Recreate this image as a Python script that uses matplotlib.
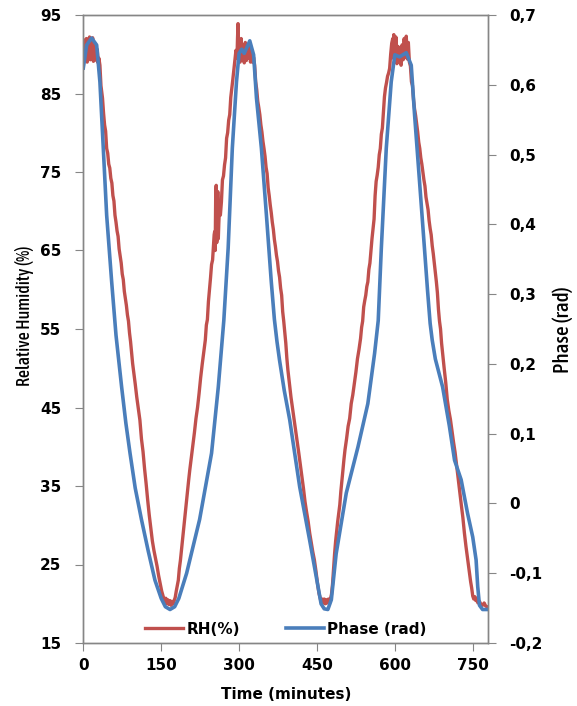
import matplotlib
matplotlib.use("Agg")
import matplotlib.pyplot as plt
from matplotlib.ticker import FuncFormatter
from matplotlib import font_manager as fm
from matplotlib.font_manager import FontProperties

# ---------------- data ----------------
rh_time = [0, 1.5, 3, 4.5, 6, 7.5, 9, 10.5, 12, 13.5, 15, 16.5, 18, 19.5, 21, 22.5, 24, 25.5, 27, 28.5, 30,
           32, 34, 36, 37, 39, 41, 43, 45, 47, 49, 51, 53, 55, 57, 59, 61, 63, 65, 67, 69, 71, 73, 75, 77, 79,
           81, 83, 85, 87, 89, 91, 93, 95, 97, 100, 103, 106, 109, 112, 115, 118, 121, 124, 127, 130, 133, 136,
           139, 142, 145, 148, 151, 154, 157, 159, 161, 163, 165, 167, 169, 171, 173, 175, 177,
           179, 181, 183, 185, 187, 189, 191, 193, 195, 197, 199, 201, 203, 205, 208, 211, 214, 217, 220, 223,
           226, 229, 232, 235, 237, 239, 241, 243, 245, 247, 249, 251, 252, 253, 254, 255, 256, 257, 258, 259,
           260, 261, 262, 264, 266, 268, 270, 272, 274, 276, 278, 280, 282, 284, 286, 288, 290, 292, 294, 296,
           297, 298, 299, 300, 302, 304, 306, 308, 310, 312, 314, 316, 318, 320, 322, 324, 326, 328, 330,
           332, 334, 336, 338, 340, 342, 344, 346, 348, 350, 352, 354, 356, 358, 360, 362, 364, 366, 368, 370,
           372, 374, 376, 378, 380, 382, 384, 386, 388, 390, 392, 394, 397, 400, 403, 406, 409, 412, 415, 418,
           421, 424, 427, 430, 433, 436, 439, 442, 445, 448, 451, 454, 456, 458, 460, 462, 464, 466, 468, 470,
           472, 474, 476, 478,
           480, 482, 484, 486, 488, 490, 492, 494, 496, 498, 500, 502, 504, 507, 510, 513, 516, 519, 522, 525,
           528, 531, 534, 536, 538, 540, 542, 544, 546, 548, 550, 552, 554, 556, 558, 560, 562, 564, 566, 568,
           570, 572, 574, 576, 578, 580, 582, 584, 586, 588, 590, 592, 594, 596, 597, 598, 600, 602, 604, 606,
           608, 610, 612, 614, 616, 618, 620, 622, 624, 626, 628, 630,
           632, 634, 636, 638, 640, 642, 644, 646, 648, 650, 652, 654, 656, 658, 660, 662, 664, 666, 668, 670,
           672, 674, 676, 678, 680, 682, 684, 686, 688, 690, 692, 695, 698, 701, 704, 707, 710, 713, 716, 719,
           722, 725, 728, 731, 734, 737, 740, 743, 746, 748, 750, 752, 754, 756, 758, 760, 763, 766, 769, 772,
           775, 779]

rh_values = [91.5, 89.2, 91.8, 89.5, 92.0, 89.0, 91.6, 89.8, 92.2, 89.3, 91.9, 89.6, 92.1, 89.1, 91.4, 89.7, 91.0, 89.2, 90.6, 88.9, 89.5,
             88.6, 86.0, 85.0, 84.4, 82.5, 81.0, 80.2, 78.0, 77.4, 76.0, 75.5, 74.2, 73.6, 72.0, 71.3, 69.5, 68.6, 67.5, 66.8, 65.2, 64.3, 63.4, 62.0, 61.3, 59.8,
             58.9, 58.0, 56.8, 56.0, 54.5, 53.4, 52.0, 50.6, 49.6, 48.0, 46.3, 44.9, 43.4, 41.0, 39.4, 37.2, 35.3, 33.2, 31.3, 29.6, 28.0, 26.8,
             25.8, 24.8, 23.6, 22.6, 21.6, 20.9, 20.3, 20.7, 20.0, 20.5, 19.9, 20.4, 19.8, 20.3, 20.0, 20.4, 20.8,
             21.6, 22.3, 23.0, 24.5, 25.5, 26.8, 28.0, 29.4, 30.6, 32.0, 33.2, 34.6, 35.8, 37.0, 38.6, 40.3, 41.8, 43.6, 45.0, 46.8,
             48.8, 50.5, 52.0, 53.6, 55.5, 56.2, 58.5, 60.0, 61.5, 63.2, 63.8, 66.0, 67.0, 67.4, 65.0, 72.0, 73.3, 66.0, 68.0, 72.5,
             66.5, 68.5, 70.0, 69.5, 71.2, 74.0, 74.5, 75.9, 76.8, 79.3, 80.0, 81.6, 82.3, 84.5, 85.6, 86.8, 88.0, 89.1, 90.5, 89.5,
             92.0, 93.9, 90.0, 91.5, 89.0, 92.0, 89.3, 91.2, 88.9, 91.5, 89.2, 91.0, 89.5, 91.3, 89.0, 90.5, 89.0, 89.6, 88.6,
             86.5, 85.5, 84.0, 83.2, 82.3, 81.0, 80.1, 78.9, 78.0, 77.0, 75.6, 74.8, 73.0, 72.0, 70.8, 69.8, 68.6, 67.7, 66.4, 65.5,
             64.4, 63.6, 62.4, 61.6, 60.2, 59.3, 57.2, 56.0, 54.6, 53.2, 51.3, 49.8, 48.0, 46.3, 44.9, 43.6, 42.0, 40.6, 39.2, 37.7,
             36.2, 34.7, 33.0, 31.7, 30.5, 29.0, 27.8, 26.6, 25.6, 24.2, 22.6, 21.3, 20.8, 20.2, 20.6, 20.1, 20.6, 20.0, 20.5, 20.1,
             20.6, 20.3, 20.6, 21.2,
             22.5, 24.5, 26.4, 28.0, 29.3, 30.5, 31.6, 32.6, 34.3, 35.6, 37.0, 38.4, 39.6, 41.0, 42.6, 43.6, 45.5, 46.6, 48.0, 49.5,
             51.2, 52.4, 53.8, 55.2, 56.0, 57.8, 58.6, 59.3, 60.4, 61.0, 62.6, 63.4, 65.0, 66.5, 67.8, 69.0, 72.0, 73.8, 74.6, 75.6,
             77.2, 78.0, 79.8, 80.6, 82.6, 84.6, 85.7, 86.4, 87.2, 87.6, 88.2, 90.0, 91.4, 92.0, 89.5, 92.5, 89.6, 92.2, 88.8, 91.0,
             89.0, 90.8, 88.6, 91.2, 89.3, 92.0, 89.6, 92.3, 89.4, 91.5, 89.0, 88.5,
             86.5, 86.0, 84.2, 83.0, 82.2, 81.2, 80.1, 78.8, 78.0, 76.8, 76.0, 75.0, 74.0, 73.2, 71.8, 71.0, 70.2, 68.8, 67.8, 67.0,
             65.6, 64.6, 63.4, 62.2, 61.0, 59.6, 57.5, 56.0, 55.0, 53.2, 51.9, 50.0, 48.2, 46.0, 44.6, 43.5, 42.0, 40.6, 39.3, 37.6,
             36.0, 34.2, 32.6, 31.0, 29.0, 27.3, 25.8, 24.2, 22.8, 22.0, 21.0, 20.6, 20.9, 20.4, 20.7, 20.1, 20.3, 19.9, 19.8, 20.1,
             19.7, 19.6]

phase_time = [0, 6.5, 16, 25.7, 32, 38.5, 45, 54.6, 63, 73.8, 82, 90, 100, 112, 125, 138, 150, 158, 167, 176, 184,
              199, 224, 247, 260, 270.6, 279, 287, 295, 300, 305, 310, 320.6, 328, 333.5, 343, 352.7, 362, 368,
              373, 378, 387, 397.5, 416.7, 436, 452, 458, 464, 471, 477.7, 487, 506.5, 529, 548, 561, 568, 574,
              583.5, 593, 600, 609, 622, 631.6, 638, 647.5, 657, 663, 668, 672, 678, 692, 705, 715, 727.7, 740,
              750, 756.5, 759.6, 763, 769, 779]

phase_values = [0.624, 0.657, 0.667, 0.657, 0.604, 0.509, 0.413, 0.318, 0.241, 0.167, 0.115, 0.072, 0.022, -0.023,
                -0.068, -0.110, -0.136, -0.148, -0.152, -0.148, -0.136,
                -0.100, -0.023, 0.072, 0.167, 0.262, 0.366, 0.509, 0.604, 0.645, 0.651, 0.645, 0.663, 0.643, 0.581,
                0.509, 0.413, 0.318, 0.264,
                0.232, 0.205, 0.162, 0.120, 0.024, -0.053, -0.119, -0.144, -0.151, -0.152, -0.138, -0.072, 0.015,
                0.081, 0.143, 0.215, 0.262, 0.366,
                0.509, 0.604, 0.643, 0.640, 0.646, 0.628, 0.557, 0.462, 0.366, 0.305, 0.258, 0.234, 0.207, 0.167,
                0.111, 0.062, 0.034, -0.014,
                -0.048, -0.081, -0.119, -0.146, -0.152, -0.152]

x_ticks = [0, 150, 300, 450, 600, 750]
rh_ticks = [15, 25, 35, 45, 55, 65, 75, 85, 95]
phase_ticks = [-0.2, -0.1, 0, 0.1, 0.2, 0.3, 0.4, 0.5, 0.6, 0.7]

# ---------------- style helpers ----------------
RED = "#C0504D"
BLUE = "#4A7EBB"
AXC = "#868686"


def find_label_font():
    cands = []
    for f in fm.fontManager.ttflist:
        key = (f.name + " " + f.fname).lower()
        if ("narrow" in key or "condensed" in key) and f.style == "normal":
            w = f.weight if isinstance(f.weight, int) else 400
            cands.append((abs(w - 500), f.fname))
    if cands:
        cands.sort()
        return FontProperties(fname=cands[0][1])
    return FontProperties(family=["Roboto", "Liberation Sans", "DejaVu Sans"], weight="medium")


label_fp = find_label_font()

# ---------------- figure ----------------
W, H = 577, 706
fig = plt.figure(figsize=(W / 100, H / 100), dpi=100)
ax = fig.add_axes([83.3 / W, 1 - 643 / H, (488.3 - 83.3) / W, (643 - 15) / H])
ax2 = ax.twinx()

l1, = ax.plot(rh_time, rh_values, color=RED, lw=2.4, label="RH(%)", solid_joinstyle="round")
l2, = ax2.plot(phase_time, phase_values, color=BLUE, lw=2.6, label="Phase (rad)", solid_joinstyle="round")

ax.set_xlim(0, 780)
ax.set_ylim(15, 95)
ax2.set_ylim(-0.2, 0.7)
ax.set_xticks(x_ticks)
ax.set_yticks(rh_ticks)
ax2.set_yticks(phase_ticks)


def comma_fmt(v, pos):
    if abs(v) < 1e-9:
        return "0"
    return ("%.1f" % v).replace(".", ",")


ax2.yaxis.set_major_formatter(FuncFormatter(comma_fmt))

for a in (ax, ax2):
    for s in a.spines.values():
        s.set_color(AXC)
        s.set_linewidth(1.0)

ax.tick_params(axis="y", direction="out", length=6, color=AXC, pad=10)
ax.tick_params(axis="x", direction="out", length=6, color=AXC, pad=5)
ax2.tick_params(axis="y", direction="out", length=6, color=AXC, pad=9)
for lab in ax.get_xticklabels() + ax.get_yticklabels() + ax2.get_yticklabels():
    lab.set_fontsize(11)
    lab.set_fontweight("bold")

ax.set_xlabel("Time (minutes)", fontsize=11, fontweight="bold", labelpad=10)


def fitted_vlabel(text, xc, yc, target_len):
    fp = label_fp.copy()
    fp.set_size(12)
    t = fig.text(xc / W, 1 - yc / H, text, rotation=90, ha="center", va="center", fontproperties=fp)
    fig.canvas.draw()
    h = t.get_window_extent().height
    fp.set_size(12 * target_len / h)
    t.set_fontproperties(fp)
    return t


fitted_vlabel("Relative Humidity (%)", 25, 316, 140)
fitted_vlabel("Phase (rad)", 563, 330, 86)

ax.legend(handles=[l1, l2], loc="lower center", bbox_to_anchor=(0.5, -0.012), ncol=2, frameon=False,
          prop=dict(size=11, weight="bold"), handlelength=2.5, columnspacing=3.0, handletextpad=0.2)

fig.savefig("out.png", dpi=100)
